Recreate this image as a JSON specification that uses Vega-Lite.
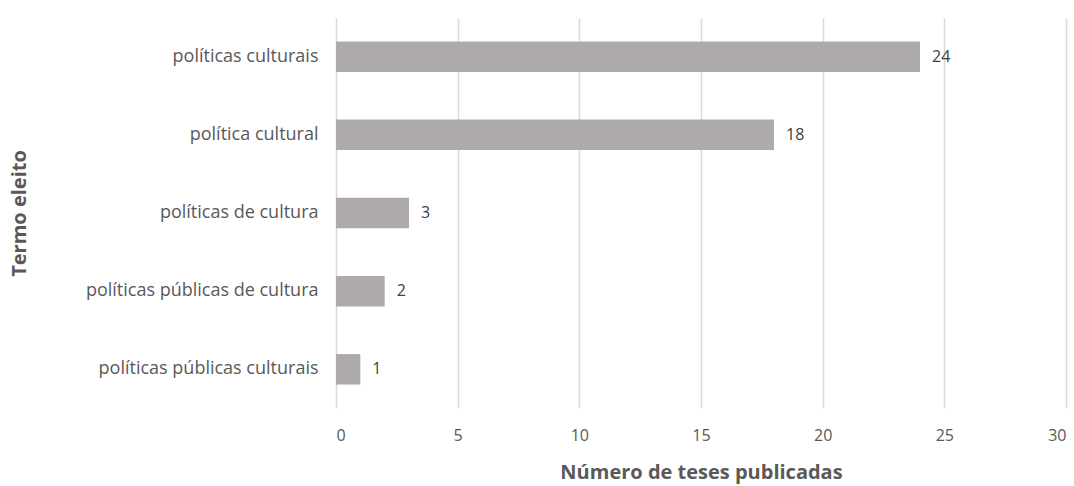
{
  "$schema": "https://vega.github.io/schema/vega-lite/v6.json",
  "autosize": {"type": "none"},
  "padding": {"left": 336, "top": 18, "right": 8, "bottom": 78},
  "width": 730,
  "height": 390,
  "background": "white",
  "config": {
    "view": {"stroke": null},
    "font": "Open Sans",
    "axis": {"labelFont": "Open Sans", "titleFont": "Open Sans"}
  },
  "data": {
    "values": [
      {"termo": "políticas culturais", "n": 24},
      {"termo": "política cultural", "n": 18},
      {"termo": "políticas de cultura", "n": 3},
      {"termo": "políticas públicas de cultura", "n": 2},
      {"termo": "políticas públicas culturais", "n": 1}
    ]
  },
  "encoding": {
    "y": {
      "field": "termo", "type": "nominal", "sort": null,
      "scale": {"paddingInner": 0.61, "paddingOuter": 0.3},
      "axis": {
        "title": "Termo eleito", "titleFontSize": 20, "titleFontWeight": "bold", "titleColor": "#595959",
        "titlePadding": 107,
        "labelFontSize": 18, "labelColor": "#595959", "labelPadding": 18, "labelLimit": 400,
        "ticks": false, "domain": false, "grid": false
      }
    },
    "x": {
      "field": "n", "type": "quantitative",
      "scale": {"domain": [0, 30]},
      "axis": {
        "title": "Número de teses publicadas", "titleFontSize": 20, "titleFontWeight": "bold", "titleColor": "#595959",
        "titlePadding": 19,
        "values": [0, 5, 10, 15, 20, 25, 30],
        "labelFontSize": 16, "labelColor": "#595959", "labelPadding": 19,
        "ticks": false, "domain": false, "grid": true, "gridColor": "#d9d9d9", "gridWidth": 1.5
      }
    }
  },
  "layer": [
    {"mark": {"type": "bar", "color": "#aeaaaa"}},
    {
      "mark": {"type": "text", "align": "left", "dx": 12, "fontSize": 16, "color": "#404040"},
      "encoding": {"text": {"field": "n", "type": "quantitative"}}
    }
  ]
}
